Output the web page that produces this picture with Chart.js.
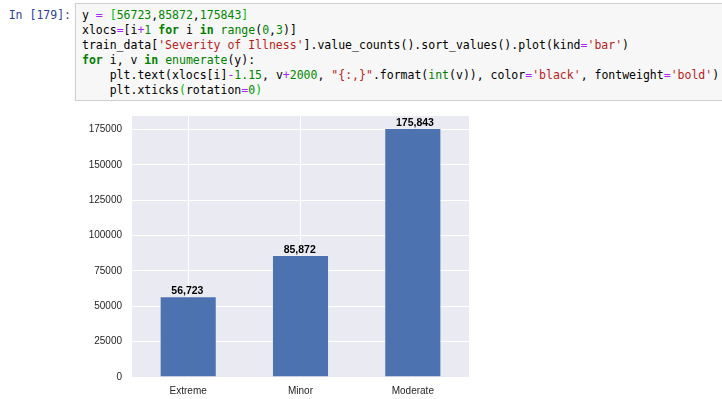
<!DOCTYPE html>
<html>
<head>
<meta charset="utf-8">
<script src="https://cdn.jsdelivr.net/npm/chart.js@4/dist/chart.umd.min.js"></script>
<style>
  html, body { margin:0; padding:0; background:#fff; width:722px; height:399px; overflow:hidden; }
  .prompt { position:absolute; left:0; top:8px; width:71px; text-align:right; font-family:"DejaVu Sans Mono", monospace; font-size:11.5px; line-height:15px; color:#303F9F; white-space:pre; }
  .cell { position:absolute; left:75px; top:3px; width:660px; height:98px; background:#f7f7f7; border:1px solid #cfcfcf; box-sizing:border-box; }
  pre { position:absolute; left:82px; top:8px; margin:0; font-family:"DejaVu Sans Mono", monospace; font-size:11.5px; line-height:15px; color:#000; }
  .k { color:#008000; font-weight:bold; }
  .b { color:#008000; }
  .n { color:#008800; }
  .s { color:#BA2121; }
  .o { color:#AA22FF; }
  .m { color:#00bb00; }
  #wrap { position:absolute; left:0; top:105px; width:722px; height:294px; }
  canvas { display:block; }
</style>
</head>
<body>
<div class="prompt">In [179]:</div>
<div class="cell"></div>
<pre>y <span class="o">=</span> <span class="m">[</span><span class="n">56723</span>,<span class="n">85872</span>,<span class="n">175843</span><span class="m">]</span>
xlocs<span class="o">=</span>[i<span class="o">+</span><span class="n">1</span> <span class="k">for</span> i <span class="k">in</span> <span class="b">range</span>(<span class="n">0</span>,<span class="n">3</span>)]
train_data[<span class="s">'Severity of Illness'</span>].value_counts().sort_values().plot(kind<span class="o">=</span><span class="s">'bar'</span>)
<span class="k">for</span> i, v <span class="k">in</span> <span class="b">enumerate</span>(y):
    plt.text(xlocs[i]<span class="o">-</span><span class="n">1.15</span>, v<span class="o">+</span><span class="n">2000</span>, <span class="s">"{:,}"</span>.format(<span class="b">int</span>(v)), color<span class="o">=</span><span class="s">'black'</span>, fontweight<span class="o">=</span><span class="s">'bold'</span>)
    plt.xticks<span class="m">(</span>rotation<span class="o">=</span><span class="n">0</span><span class="m">)</span></pre>
<div id="wrap"><canvas id="c" width="722" height="294"></canvas></div>
<script>
const categories = ["Extreme", "Minor", "Moderate"];
const counts = [56723, 85872, 175843];
const yTicks = [0, 25000, 50000, 75000, 100000, 125000, 150000, 175000];
const labelOffsetX = -0.15;   // from xlocs[i]-1.15
const labelOffsetY = 2000;    // from v+2000

const bgPlugin = {
  id: 'bg',
  beforeDraw(chart) {
    const {ctx, chartArea: a} = chart;
    ctx.save();
    ctx.fillStyle = '#EAEAF2';
    ctx.fillRect(a.left, a.top, a.right - a.left, a.bottom - a.top);
    ctx.restore();
  }
};
const labelPlugin = {
  id: 'vals',
  afterDatasetsDraw(chart) {
    const {ctx, scales: {x, y}} = chart;
    ctx.save();
    ctx.fillStyle = '#000';
    ctx.font = 'bold 10.5px "Liberation Sans", Arial, sans-serif';
    ctx.textAlign = 'left';
    ctx.textBaseline = 'alphabetic';
    counts.forEach((v, i) => {
      const px = x.getPixelForValue(i + labelOffsetX);
      const py = y.getPixelForValue(v + labelOffsetY);
      ctx.fillText(v.toLocaleString('en-US'), px, py);
    });
    ctx.restore();
  }
};

new Chart(document.getElementById('c'), {
  type: 'bar',
  data: {
    labels: categories,
    datasets: [{
      data: counts,
      backgroundColor: '#4C72B0',
      borderColor: 'rgba(255,255,255,0.6)',
      borderWidth: 0.5,
      categoryPercentage: 1.0,
      barPercentage: 0.5
    }]
  },
  options: {
    responsive: false,
    animation: false,
    devicePixelRatio: 1,
    layout: { padding: { left: 0, right: 253, top: 11, bottom: 0 } },
    plugins: { legend: { display: false }, tooltip: { enabled: false } },
    scales: {
      x: {
        offset: true,
        grid: { color: '#ffffff', lineWidth: 1, offset: false, drawTicks: false },
        border: { display: false },
        ticks: { color: '#262626', font: { family: '"Liberation Sans", Arial, sans-serif', size: 10 }, padding: 8, maxRotation: 0 },
        afterFit(s) { s.height = 22; s.paddingLeft = 0; s.paddingRight = 0; }
      },
      y: {
        min: 0,
        max: counts[2] * 1.05,
        grid: { color: '#ffffff', lineWidth: 1, drawTicks: false },
        border: { display: false },
        afterBuildTicks(s) { s.ticks = yTicks.map(v => ({ value: v })); },
        ticks: { color: '#262626', font: { family: '"Liberation Sans", Arial, sans-serif', size: 10 }, padding: 10, callback: v => String(v) },
        afterFit(s) { s.width = 132; s.paddingTop = 0; s.paddingBottom = 0; }
      }
    }
  },
  plugins: [bgPlugin, labelPlugin]
});
</script>
</body>
</html>
